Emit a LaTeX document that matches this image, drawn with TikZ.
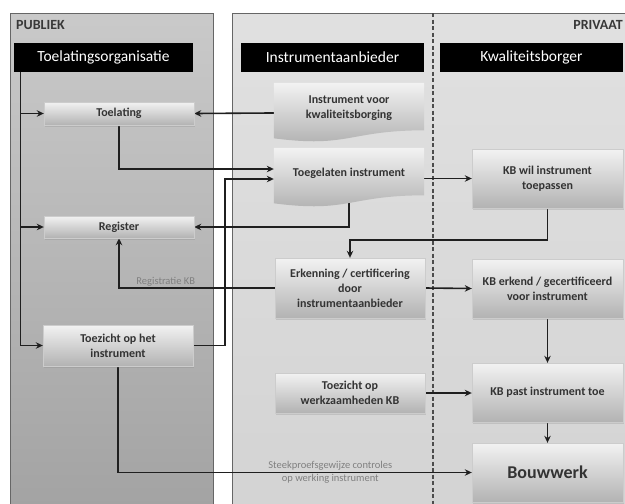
\documentclass[tikz,border=0pt]{standalone}
\usepackage{fontspec}
\setmainfont{Carlito}
\usetikzlibrary{arrows.meta,calc,shadows}
\pgfdeclarelayer{bg}
\pgfdeclarelayer{lines}
\pgfsetlayers{bg,lines,main}
\newcommand{\docshape}[1]{%
  \shade[top color=black!5, bottom color=black!32]
    (#1.north west) -- (#1.north east)
    -- ($(#1.south east)!0.2!(#1.north east)$)
    .. controls ($(#1.south)!0.2!(#1.north)$) and ($(#1.south)!-0.1!(#1.north)$)
    .. ($(#1.south west)!0.066!(#1.north west)$) -- cycle;}
\begin{document}
\begin{tikzpicture}[x=1pt,y=-1pt,
  box/.style={rectangle, inner sep=2pt, align=center,
    font=\bfseries\fontsize{12}{15}\selectfont, text=black!80,
    top color=black!5, bottom color=black!30, draw=black!20, line width=0.4pt,
    drop shadow={opacity=0.25,shadow xshift=1.2pt,shadow yshift=-1.5pt}},
  docbox/.style={rectangle, inner sep=0pt, minimum width=150, minimum height=59},
  doctext/.style={align=center, font=\bfseries\fontsize{12}{15}\selectfont, text=black!80, inner sep=0pt},
  hdr/.style={rectangle, fill=black, text=white, font=\fontsize{15.5}{17}\selectfont,
    minimum height=29, inner sep=0pt},
  ttl/.style={font=\bfseries\fontsize{14}{16}\selectfont, text=black!78, inner sep=0pt},
  arr/.style={line width=1.6pt, draw=black!88, -{Stealth[length=7pt,width=6.5pt]}},
  lbl/.style={font=\fontsize{10.5}{13}\selectfont, text=black!50, inner sep=1pt, align=center},
  panelline/.style={draw=black!60, line width=0.9pt}
]
\useasboundingbox (0,0) rectangle (625,504);

% panels
\begin{pgfonlayer}{bg}
  \fill[white] (0,0) rectangle (625,504);
  \shade[top color=black!21, bottom color=black!36] (10,13) rectangle (213,504);
  \draw[panelline] (10,504) -- (10,13) -- (213,13) -- (213,504);
  \shade[top color=black!12, bottom color=black!17] (232,13) rectangle (625,504);
  \draw[panelline] (232,504) -- (232,13) -- (625,13);
  \draw[black!70, line width=1.3pt, dash pattern=on 4pt off 2.5pt] (433,13) -- (433,504);
\end{pgfonlayer}

% panel titles
\node[ttl, anchor=west] (publ) at (16,25) {PUBLIEK};
\node[ttl, anchor=east] (priv) at (623,25) {PRIVAAT};

% headers
\node[hdr, minimum width=179] (torg) at (103.5,57.5) {Toelatingsorganisatie};
\node[hdr, minimum width=183] (iahdr) at (332.5,57.5) {Instrumentaanbieder};
\node[hdr, minimum width=183] (kbhdr) at (531.5,57.5) {Kwaliteitsborger};

% left column
\node[box, minimum width=150, minimum height=23] (toel) at (119,113.5) {Toelating};
\node[box, minimum width=150, minimum height=22] (reg) at (119,227) {Register};
\node[box, minimum width=150, minimum height=41] (toez) at (118,345.5) {Toezicht op het\\instrument};

% middle column
\node[docbox] (inst) at (349,112.5) {};
\docshape{inst}
\node[doctext] (instT) at ($(inst.center)+(0,-4.5)$) {Instrument voor\\kwaliteitsborging};
\node[docbox] (toeg) at (349,177.5) {};
\docshape{toeg}
\node[doctext] (toegT) at ($(toeg.center)+(0,-4.5)$) {Toegelaten instrument};
\node[box, minimum width=150, minimum height=60] (erk) at (350,288) {Erkenning / certificering\\door\\instrumentaanbieder};
\node[box, minimum width=150, minimum height=40] (tzw) at (350,393) {Toezicht op\\werkzaamheden KB};

% right column
\node[box, minimum width=151, minimum height=59] (kbw) at (547.5,178.5) {KB wil instrument\\toepassen};
\node[box, minimum width=151, minimum height=59] (kbe) at (547.5,288.5) {KB erkend / gecertificeerd\\voor instrument};
\node[box, minimum width=151, minimum height=59] (kbp) at (547.5,392.5) {KB past instrument toe};
\node[box, minimum width=151, minimum height=59, font=\bfseries\fontsize{18}{20}\selectfont] (bouw) at (547.5,472.5) {Bouwwerk};

% helper coordinates
\coordinate (L) at ($(torg.south west)+(6.5,0)$);
\coordinate (gap) at (225,0);
\coordinate (k1) at (0,240);

% connectors
\begin{pgfonlayer}{lines}
  \draw[arr] (L) |- (toel.west);
  \draw[arr] (L) |- (reg.west);
  \draw[arr] (L) |- (toez.west);
  \draw[arr] (inst.center) -- (toel.east);
  \draw[arr] (toel.south) |- ($(toeg.west)+(0,-8.5)$);
  \draw[arr] (toez.east) -- (toez.east -| gap) |- ($(toeg.west)+(0,1.5)$);
  \draw[arr] (toeg.center) |- (reg.east);
  \draw[arr] (toeg.east |- kbw.west) -- (kbw.west);
  \draw[arr] (kbw.south) -- (kbw.south |- k1) -| (erk.north);
  \draw[arr] (erk.west) -| (reg.south) node[lbl, above, pos=0.35] (regkb) {Registratie KB};
  \draw[arr] (erk.east) -- (kbe.west);
  \draw[arr] (kbe.south) -- (kbp.north);
  \draw[arr] (tzw.east) -- (tzw.east -| kbp.west);
  \draw[arr] (kbp.south) -- (bouw.north);
  \draw[arr] (toez.south) |- (bouw.west) node[lbl, pos=0.8] (steek) {Steekproefsgewijze controles\\op werking instrument};
\end{pgfonlayer}
\end{tikzpicture}
\end{document}
